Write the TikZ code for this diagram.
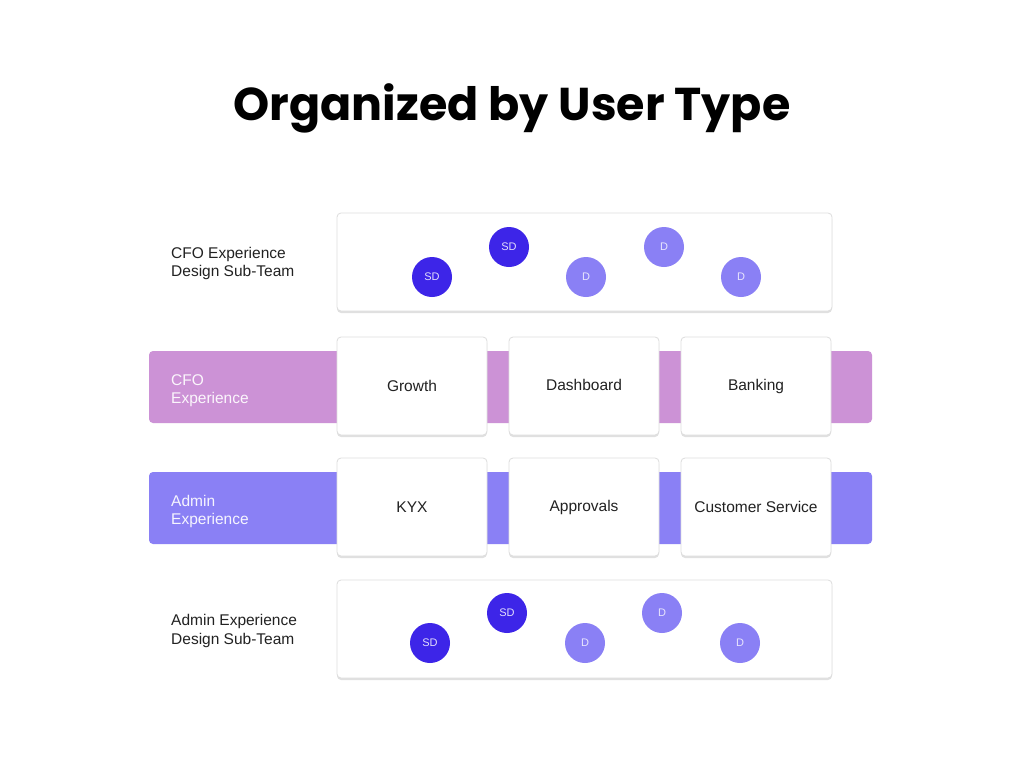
\documentclass[tikz,border=0pt]{standalone}
\usepackage{fontspec}
\setmainfont{Liberation Sans}
\newfontfamily\titlefont{Poppins}
\usetikzlibrary{shadows}

\definecolor{cfoband}{HTML}{CC92D6}
\definecolor{adminband}{HTML}{8A80F5}
\definecolor{sdcol}{HTML}{3D25E8}
\definecolor{dcol}{HTML}{8A80F5}
\definecolor{cardline}{HTML}{DDDDDD}
\definecolor{cardtext}{HTML}{222222}

\begin{document}
\begin{tikzpicture}[x=1pt, y=-1pt,
    card/.style={draw=cardline, fill=white, rounded corners=4pt, line width=0.8pt,
      minimum width=150pt, minimum height=98pt, text=cardtext, font=\fontsize{15.5}{18}\selectfont,
      drop shadow={shadow xshift=0pt, shadow yshift=-2pt, opacity=0.12, fill=black}},
    teambox/.style={card, minimum width=495pt},
    band/.style={rounded corners=4pt, minimum width=723pt, minimum height=72pt, inner sep=0pt},
    sidetext/.style={anchor=west, align=left, inner sep=0pt, text=cardtext, font=\fontsize{15.5}{18.5}\selectfont},
    sd/.style={circle, fill=sdcol, minimum size=40pt, inner sep=0pt, text=white!85!sdcol,
      font=\fontsize{11}{11}\selectfont},
    dd/.style={sd, fill=dcol, text=white!80!dcol}]
    \useasboundingbox [fill=white] (0,0) rectangle (1024,768);
    % title
    \node (title) at (512,108) {\titlefont\bfseries\fontsize{46}{46}\selectfont Organized by User Type};
    % sub-team boxes
    \node [teambox] (cfoteam) at (584.5,262) {};
    \node [teambox] (adminteam) at (584.5,629) {};
    \node [sidetext] (cfoteamtxt) at (171,263.5) {CFO Experience\\Design Sub-Team};
    \node [sidetext] (adminteamtxt) at (171,631) {Admin Experience\\Design Sub-Team};
    % bands
    \node [band, fill=cfoband] (cfoband) at (510.5,387) {};
    \node [band, fill=adminband] (adminband) at (510.5,508) {};
    \node [sidetext, text=white!92!cfoband] (cfotxt) at (171,390.5) {CFO\\Experience};
    \node [sidetext, text=white!92!adminband] (admintxt) at (171,511.5) {Admin\\Experience};
    % cards
    \node [card] (growth) at (412,386) {Growth};
    \node [card] (dash) at (584,386) {\raisebox{2pt}{Dashboard}};
    \node [card] (banking) at (756,386) {Banking};
    \node [card] (kyx) at (412,507) {KYX};
    \node [card] (approvals) at (584,507) {Approvals};
    \node [card] (custserv) at (756,507) {Customer Service};
    % designers
    \node [sd] (cfosda) at (432,277) {SD};
    \node [sd] (cfosdb) at (509,247) {SD};
    \node [dd] (cfoda) at (586,277) {D};
    \node [dd] (cfodb) at (664,247) {D};
    \node [dd] (cfodc) at (741,277) {D};
    \node [sd] (adminsda) at (430,643) {SD};
    \node [sd] (adminsdb) at (507,613) {SD};
    \node [dd] (adminda) at (585,643) {D};
    \node [dd] (admindb) at (662,613) {D};
    \node [dd] (admindc) at (740,643) {D};
\end{tikzpicture}
\end{document}
